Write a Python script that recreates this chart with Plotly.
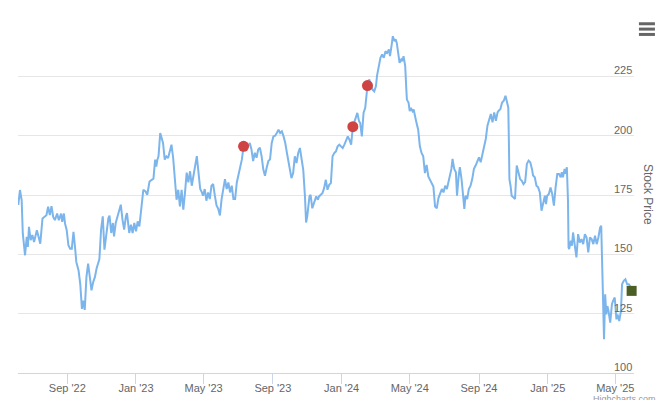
import pandas as pd
import plotly.graph_objects as go

# ---- data ----
start_date = "2022-06-06"
day_offsets = [
    0, 3, 6, 8, 12, 15, 17, 19, 22, 25, 28, 33, 36, 39, 43, 46, 50, 53, 56, 59, 62, 65, 69, 72, 76, 78, 81, 83, 86, 89,
    92, 95, 98, 101, 103, 107, 110, 113, 115, 118, 121, 124, 127, 130, 133, 136, 139, 142, 144, 147, 150, 153, 156, 160,
    162, 165, 168, 170, 173, 176, 182, 185, 188, 191, 193, 197, 200, 203, 206, 209, 212, 215, 218, 222, 226, 229, 233,
    237, 240, 243, 245, 247, 249, 252, 255, 257, 260, 263, 266, 269, 272, 275, 278, 281, 284, 287, 290, 293, 296, 299,
    302, 305, 308, 311, 314, 317, 320, 323, 326, 328, 331, 334, 337, 340, 343, 346, 349, 352, 355, 358, 361, 364, 367,
    370, 373, 376, 379, 382, 385, 388, 391, 394, 397, 400, 403, 405, 408, 411, 414, 417, 420, 423, 426, 429, 432, 435,
    438, 441, 444, 447, 450, 453, 456, 459, 462, 465, 468, 471, 474, 477, 479, 482, 485, 488, 491, 494, 497, 500, 503,
    506, 509, 511, 513, 517, 519, 522, 525, 529, 532, 534, 537, 540, 543, 546, 549, 552, 555, 556, 558, 561, 564, 567,
    570, 573, 576, 579, 582, 585, 588, 591, 594, 596, 600, 602, 605, 607, 610, 613, 616, 619, 620, 623, 626, 629, 632,
    635, 637, 640, 643, 646, 649, 652, 655, 658, 660, 663, 665, 668, 670, 672, 675, 677, 680, 682, 684, 687, 689, 690,
    693, 695, 697, 700, 702, 704, 707, 710, 713, 716, 719, 722, 725, 728, 731, 734, 737, 740, 743, 746, 749, 752, 755,
    758, 761, 763, 766, 769, 771, 774, 777, 779, 782, 784, 787, 790, 792, 794, 797, 800, 803, 806, 809, 812, 815, 818,
    821, 824, 827, 830, 833, 836, 839, 842, 845, 848, 851, 853, 856, 859, 862, 865, 868, 870, 871, 872, 874, 876, 879,
    882, 885, 888, 891, 894, 897, 900, 903, 906, 909, 912, 914, 917, 920, 923, 926, 929, 932, 935, 937, 939, 942, 945,
    948, 951, 954, 957, 960, 963, 965, 967, 970, 972, 974, 976, 977, 978, 981, 983, 985, 988, 991, 994, 997, 1000, 1003,
    1006, 1009, 1012, 1015, 1018, 1021, 1024, 1027, 1030, 1033, 1035, 1036, 1038, 1039, 1040, 1042, 1044, 1046, 1048,
    1051, 1054, 1056, 1059, 1062, 1064, 1067, 1070, 1072, 1075, 1078, 1081, 1084, 1088, 1092,
]
prices = [
    170.8, 177.1, 172.9, 158.8, 149.6, 157.4, 153.1, 161.6, 156.0, 158.1, 155.2, 160.2, 157.4, 154.5, 165.1, 165.8,
    166.5, 170.1, 166.5, 170.3, 165.8, 164.4, 167.2, 164.4, 167.2, 163.7, 167.2, 163.0, 160.2, 153.8, 152.4, 152.4,
    159.5, 152.4, 146.8, 143.2, 137.6, 127.0, 130.5, 126.6, 140.4, 146.1, 140.4, 134.8, 138.3, 140.4, 144.0, 146.0,
    148.0, 160.4, 166.0, 152.0, 157.6, 165.3, 166.3, 159.0, 163.2, 157.6, 163.2, 166.0, 170.9, 164.6, 160.4, 166.0,
    167.4, 159.0, 162.5, 159.0, 163.2, 159.7, 163.9, 161.8, 168.8, 177.2, 176.5, 175.1, 180.7, 181.5, 181.9, 189.9,
    187.0, 189.9, 191.3, 201.1, 198.3, 196.9, 189.9, 191.3, 190.6, 194.1, 196.2, 190.6, 182.9, 173.0, 177.2, 170.2,
    177.2, 168.8, 176.0, 184.4, 180.3, 185.0, 178.9, 183.1, 188.6, 191.4, 184.4, 177.5, 176.1, 174.7, 177.5, 172.6,
    176.1, 173.3, 178.9, 179.6, 174.7, 170.6, 169.2, 166.4, 173.3, 177.5, 181.7, 177.5, 180.3, 176.1, 178.9, 173.3,
    173.3, 180.3, 183.8, 187.2, 190.0, 195.5, 195.6, 196.9, 195.6, 196.9, 194.2, 189.3, 192.8, 190.7, 194.2, 194.9,
    191.4, 185.8, 183.1, 186.5, 189.3, 190.0, 196.9, 199.7, 200.0, 201.1, 202.5, 201.1, 201.8, 199.7, 196.9, 192.7,
    189.9, 187.0, 182.1, 184.2, 191.3, 188.5, 192.7, 194.8, 189.9, 185.6, 174.4, 163.4, 165.9, 174.4, 175.1, 169.4,
    171.6, 174.4, 173.0, 174.4, 175.1, 175.8, 177.9, 181.4, 177.2, 179.3, 180.0, 185.6, 191.3, 192.7, 193.4, 195.5,
    196.2, 195.5, 194.8, 196.2, 198.3, 199.7, 198.3, 196.2, 203.8, 205.4, 208.9, 209.6, 206.1, 205.4, 199.7, 209.6,
    211.7, 219.4, 221.1, 223.7, 221.5, 219.4, 218.7, 220.8, 225.3, 229.3, 232.8, 234.2, 232.8, 235.6, 234.9, 236.3,
    233.5, 238.4, 241.9, 239.8, 240.6, 239.1, 234.9, 230.7, 232.1, 231.4, 233.5, 229.3, 219.4, 215.2, 213.8, 210.3,
    211.7, 210.3, 211.0, 208.2, 205.4, 202.5, 195.5, 192.7, 191.3, 184.2, 187.7, 182.8, 181.4, 180.0, 178.6, 170.1,
    169.4, 173.7, 175.8, 177.5, 176.1, 178.9, 177.5, 179.6, 181.7, 186.0, 190.2, 186.0, 184.6, 174.7, 183.2, 186.7,
    181.7, 171.9, 169.1, 174.7, 173.3, 177.5, 178.9, 181.7, 186.0, 187.4, 189.5, 190.9, 188.8, 192.3, 194.4, 198.6,
    204.2, 207.0, 209.1, 205.6, 209.8, 206.3, 209.8, 210.5, 211.2, 214.0, 214.7, 216.8, 213.3, 211.9, 198.6, 181.7,
    178.9, 174.7, 174.0, 173.3, 187.4, 184.6, 181.7, 181.0, 179.6, 180.5, 188.1, 189.5, 188.8, 186.0, 183.2, 182.5,
    178.9, 178.2, 176.1, 168.4, 171.2, 174.7, 171.2, 174.7, 175.4, 178.2, 175.4, 170.5, 178.2, 183.9, 183.9, 182.5,
    184.6, 182.5, 186.0, 183.9, 186.7, 172.6, 152.9, 152.2, 155.7, 153.6, 159.2, 154.3, 148.7, 158.5, 155.0, 156.4,
    154.3, 158.5, 157.1, 150.8, 157.1, 156.4, 154.3, 157.8, 154.3, 157.1, 161.3, 162.0, 150.1, 133.2, 119.1, 114.2,
    133.2, 124.7, 128.2, 126.1, 121.2, 129.0, 130.4, 131.8, 122.6, 124.7, 121.9, 126.1, 137.4, 138.8, 139.5, 137.4,
    137.4, 136.0, 133.2,
]

event_offsets = [400, 594, 620]
event_prices = [195.5, 203.8, 221.1]

last_offset = [1089]
last_price = [134.6]

x_tick_dates = ["2022-09-01", "2023-01-01", "2023-05-01", "2023-09-01", "2024-01-01",
                "2024-05-01", "2024-09-01", "2025-01-01", "2025-05-01"]
x_tick_labels = ["Sep '22", "Jan '23", "May '23", "Sep '23", "Jan '24",
                 "May '24", "Sep '24", "Jan '25", "May '25"]
y_tick_vals = [100, 125, 150, 175, 200, 225, 250]
y_label_vals = [100, 125, 150, 175, 200, 225]
y_label_text = ["100", "125", "150", "175", "200", "225"]

# ---- build ----
t0 = pd.Timestamp(start_date)
dates = t0 + pd.to_timedelta(day_offsets, unit="D")
event_dates = t0 + pd.to_timedelta(event_offsets, unit="D")
last_dates = t0 + pd.to_timedelta(last_offset, unit="D")

FONT = "Liberation Sans, Arial, sans-serif"

fig = go.Figure()
fig.add_trace(go.Scatter(x=dates, y=prices, mode="lines",
                         line=dict(color="#7cb5ec", width=2), hoverinfo="skip"))
fig.add_trace(go.Scatter(x=event_dates, y=event_prices, mode="markers", cliponaxis=False,
                         marker=dict(color="#d04343", size=11, line=dict(width=0))))
fig.add_trace(go.Scatter(x=last_dates, y=last_price, mode="markers", cliponaxis=False,
                         marker=dict(color="#4b5e24", symbol="square", size=10, line=dict(width=0))))

fig.update_layout(
    template="none",
    width=660, height=400,
    margin=dict(l=18, r=26, t=17, b=27, autoexpand=False),
    paper_bgcolor="white", plot_bgcolor="white",
    showlegend=False,
    font=dict(family=FONT, color="#666666", size=11),
    xaxis=dict(
        type="date", automargin=False,
        range=["2022-06-05 12:00", "2025-06-03 05:00"],
        tickvals=pd.to_datetime(x_tick_dates), ticktext=x_tick_labels,
        showgrid=False, zeroline=False,
        showline=True, linecolor="#ccd6eb", linewidth=1,
        ticks="outside", ticklen=10, tickcolor="#ccd6eb", tickwidth=1,
        ticklabelstandoff=-5,
        tickfont=dict(size=11, color="#666666"),
    ),
    yaxis=dict(
        range=[100, 250], side="right", automargin=False,
        tickvals=y_tick_vals, showticklabels=False,
        showgrid=True, gridcolor="#e6e6e6", gridwidth=1,
        zeroline=False, showline=False, ticks="",
    ),
)

for v, txt in zip(y_label_vals, y_label_text):
    fig.add_annotation(text=txt, xref="paper", yref="y", x=1.0, y=v, xanchor="right",
                       yanchor="middle", yshift=6, showarrow=False,
                       font=dict(size=11, color="#666666", family=FONT))

fig.add_annotation(text="Stock Price", xref="paper", yref="paper", x=1.0227, y=0.5,
                   xanchor="center", yanchor="middle",
                   textangle=90, showarrow=False, font=dict(size=12, color="#666666", family=FONT))
fig.add_annotation(text="Highcharts.com", xref="paper", yref="paper", x=1.039, y=-0.052,
                   xanchor="right", yanchor="top", showarrow=False,
                   font=dict(size=9, color="#999999", family=FONT))

for yy in [0.981, 0.966, 0.951]:
    fig.add_shape(type="line", xref="paper", yref="paper", x0=1.008, x1=1.034, y0=yy, y1=yy,
                  line=dict(color="#666666", width=3))

fig.write_html("out.html", config={"displayModeBar": False},
               post_script="document.body.style.margin='0';document.body.style.overflow='hidden';")
